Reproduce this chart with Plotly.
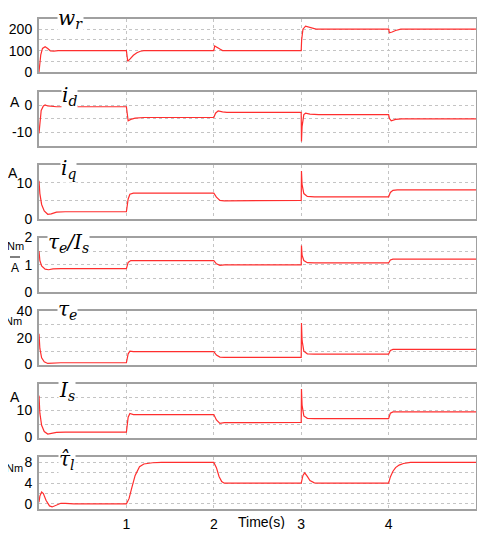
import plotly.graph_objects as go

# ---------------- data ----------------
t_wr = [0, 0.02, 0.04, 0.07, 0.10, 0.13, 0.17, 0.22, 1.0, 1.005, 1.015, 1.04, 1.08, 1.12, 1.16, 1.2,
        2.0, 2.01, 2.04, 2.07, 2.1, 3.0, 3.005, 3.02, 3.05, 3.09, 3.13, 3.17, 4.0, 4.01, 4.04, 4.08, 4.14, 5.0]
wr = [0, 80, 110, 118, 110, 99, 98, 100, 100, 70, 50, 60, 78, 90, 97, 100,
      100, 122, 116, 107, 100, 100, 150, 200, 214, 210, 203, 200, 200, 183, 187, 194, 200, 200]

t_id = [0, 0.01, 0.025, 0.05, 0.07, 0.1, 0.14, 0.2, 1.0, 1.01, 1.02, 1.05, 1.1, 1.2, 2.0, 2.02, 2.05, 2.1, 2.15,
        3.0, 3.003, 3.01, 3.03, 3.05, 3.1, 3.2, 4.0, 4.01, 4.03, 4.08, 4.15, 5.0]
i_d = [-10.5, -6, -2, -0.3, 0.1, -0.3, -0.5, -0.6, -0.6, -4.5, -5.8, -5.3, -4.8, -4.6, -4.6, -3.0, -2.1, -2.5, -2.7,
       -2.7, -13.5, -8, -3.5, -3.0, -3.3, -3.5, -3.5, -5.0, -5.8, -5.3, -5.1, -5.1]

t_iq = [0, 0.01, 0.03, 0.06, 0.1, 0.14, 0.2, 0.3, 1.0, 1.02, 1.04, 1.08, 2.0, 2.03, 2.07, 2.12,
        3.0, 3.003, 3.01, 3.03, 3.07, 3.15, 4.0, 4.02, 4.05, 4.1, 5.0]
i_q = [10.5, 7, 4, 2.2, 1.3, 1.4, 1.9, 2.0, 2.0, 5.5, 6.8, 7.1, 7.1, 6.0, 5.1, 5.0,
       5.1, 13.2, 9.5, 7.0, 6.2, 6.1, 6.1, 7.3, 7.9, 8.0, 8.0]

t_ratio = [0, 0.01, 0.03, 0.07, 0.11, 0.16, 0.25, 1.0, 1.02, 1.05, 2.0, 2.03, 2.07, 2.12,
           3.0, 3.003, 3.01, 3.03, 3.07, 3.15, 4.0, 4.02, 4.05, 5.0]
ratio = [1.5, 1.15, 0.95, 0.83, 0.81, 0.84, 0.85, 0.85, 1.08, 1.15, 1.15, 1.03, 0.97, 0.99,
         0.99, 1.7, 1.35, 1.15, 1.07, 1.06, 1.06, 1.17, 1.2, 1.2]

t_te = [0, 0.01, 0.03, 0.06, 0.1, 0.15, 0.25, 1.0, 1.02, 1.04, 1.08, 2.0, 2.03, 2.07, 2.12,
        3.0, 3.003, 3.01, 3.03, 3.07, 3.15, 4.0, 4.02, 4.05, 5.0]
te = [23, 12, 5, 2, 0.8, 1.0, 1.3, 1.3, 8, 10, 9.6, 9.6, 7, 5.5, 5.3,
      5.3, 31, 18, 10, 8, 7.7, 7.7, 10.5, 11.3, 11.3]

t_is = [0, 0.01, 0.03, 0.06, 0.1, 0.15, 0.2, 0.3, 1.0, 1.02, 1.04, 1.08, 2.0, 2.03, 2.07, 2.12,
        3.0, 3.003, 3.01, 3.03, 3.07, 3.15, 4.0, 4.02, 4.05, 5.0]
i_s = [15.5, 9, 4.5, 2.2, 1.3, 1.5, 1.9, 2.0, 2.0, 7.5, 8.9, 8.5, 8.5, 6.5, 5.2, 5.5,
       5.6, 18, 12, 8, 7.1, 7.0, 7.0, 9.0, 9.5, 9.5]

t_tl = [0, 0.01, 0.03, 0.05, 0.08, 0.12, 0.15, 0.2, 0.25, 0.3, 0.4, 1.0, 1.03, 1.06, 1.1, 1.15, 1.2, 1.3, 1.4,
        2.0, 2.03, 2.06, 2.09, 2.12, 3.0, 3.02, 3.04, 3.07, 3.1, 3.15, 3.2,
        4.0, 4.02, 4.05, 4.08, 4.12, 4.17, 4.25, 5.0]
tl_hat = [0.3, 1.5, 2.3, 2.0, 0.7, -0.4, -0.6, -0.3, 0.1, 0.1, 0, 0, 1.0, 3.0, 5.5, 7.2, 7.7, 7.95, 8,
          8, 7, 5.3, 4.3, 4.0, 4.0, 5.5, 6.0, 5.3, 4.5, 4.05, 4.0,
          4.0, 5.2, 6.3, 7.0, 7.5, 7.8, 8.0, 8.0]

x_ticks = [1, 2, 3, 4, 5]
x_ticktext = ["1", "2", "3", "4", "5"]

panels = [
    dict(t=t_wr, y=wr, rng=[0, 250], tv=[0, 50, 100, 150, 200, 250], tt=["0", "", "100", "", "200", ""],
         label="<i>w<sub>r</sub></i>", unit=None),
    dict(t=t_id, y=i_d, rng=[-15, 5], tv=[-15, -10, -5, 0, 5], tt=["", "-10", "", "0", ""],
         label="<i>i<sub>d</sub></i>", unit="A"),
    dict(t=t_iq, y=i_q, rng=[0, 15], tv=[0, 5, 10, 15], tt=["0", "", "10", ""],
         label="<i>i<sub>q</sub></i>", unit="A"),
    dict(t=t_ratio, y=ratio, rng=[0, 2], tv=[0, 0.5, 1, 1.5, 2], tt=["0", "", "1", "", "2"],
         label="<i>τ<sub>e</sub>/I<sub>s</sub></i>", unit="frac"),
    dict(t=t_te, y=te, rng=[0, 40], tv=[0, 10, 20, 30, 40], tt=["0", "", "20", "", "40"],
         label="<i>τ<sub>e</sub></i>", unit="Nm"),
    dict(t=t_is, y=i_s, rng=[0, 20], tv=[0, 5, 10, 15, 20], tt=["0", "", "10", "", ""],
         label="<i>I<sub>s</sub></i>", unit="A"),
    dict(t=t_tl, y=tl_hat, rng=[-1, 9], tv=[-1, 0, 2, 4, 6, 8, 9], tt=["", "0", "", "4", "", "8", ""],
         label="<i>τ̂<sub>l</sub></i>", unit="Nm"),
]

# ---------------- layout geometry (page pixels; page body has an 8px margin) ----------------
OFF = 8
PAGE_W, PAGE_H = 485, 537
W, H = PAGE_W - 2 * OFF, PAGE_H - 2 * OFF
PL, PR = 39, 476          # plot area left/right in page pixels
ML, MR = PL - OFF, (OFF + W) - PR
PW = W - ML - MR
bounds = [(18.5, 72), (91.7, 145.5), (164.5, 219), (237.5, 291.7),
          (311, 364.5), (383.5, 437.5), (457.3, 509)]


def px(x):
    return (x - PL) / PW


def py(y):
    return 1 - (y - OFF) / H


TICKFONT = dict(family="'Liberation Sans Narrow', 'Liberation Sans', Arial, sans-serif",
                size=14, color="black")
LABELFONT = dict(family="DejaVu Serif, Liberation Serif, serif", size=20, color="black")
GRID = "#c4c4c4"
BORDER = "#a0a0a0"

fig = go.Figure()
layout = dict(width=W, height=H, margin=dict(l=ML, r=MR, t=0, b=0, autoexpand=False),
              plot_bgcolor="white", paper_bgcolor="white", showlegend=False)
annotations = []
shapes = []
label_pos = [(70, 19), (69, 96), (68, 169), (68, 243), (67, 310), (67, 391), (67, 460)]
unit_pos = [None, (15, 102), (13, 173), None, (13, 321), (15, 397), (14, 468)]

for i, p in enumerate(panels):
    n = i + 1
    xa = "x" if n == 1 else f"x{n}"
    ya = "y" if n == 1 else f"y{n}"
    fig.add_trace(go.Scatter(x=p["t"], y=p["y"], mode="lines", xaxis=xa, yaxis=ya,
                             line=dict(color="#ff2e2e", width=1.2), hoverinfo="skip"))
    top, bot = bounds[i]
    xkey = "xaxis" if n == 1 else f"xaxis{n}"
    ykey = "yaxis" if n == 1 else f"yaxis{n}"
    layout[xkey] = dict(domain=[0, 1], anchor=ya, range=[0, 5],
                        tickvals=[0] + x_ticks, ticktext=[""] + x_ticktext,
                        showticklabels=(n == 7), tickfont=TICKFONT, ticks="",
                        ticklabelstandoff=1,
                        showgrid=True, gridcolor=GRID, griddash="dot", gridwidth=1,
                        showline=True, mirror=True, linecolor=BORDER, linewidth=2,
                        zeroline=False, fixedrange=True, automargin=False)
    if n != 1:
        layout[xkey]["matches"] = "x"
    layout[ykey] = dict(domain=[py(bot), py(top)], anchor=xa, range=p["rng"],
                        tickvals=p["tv"], ticktext=p["tt"], tickfont=TICKFONT, ticks="",
                        ticklabelstandoff=2,
                        showgrid=True, gridcolor=GRID, griddash="dot", gridwidth=1,
                        showline=True, mirror=True, linecolor=BORDER, linewidth=2,
                        zeroline=False, fixedrange=True, automargin=False)
    lx, ly = label_pos[i]
    annotations.append(dict(text=p["label"], x=px(lx), y=py(ly), xref="paper", yref="paper",
                            showarrow=False, font=LABELFONT, bgcolor="white",
                            xanchor="center", yanchor="middle", borderpad=0))
    if p["unit"] == "frac":
        for txt, yy, fs in (("Nm", 246, 11), ("A", 268, 12)):
            annotations.append(dict(text=txt, x=px(15), y=py(yy), xref="paper", yref="paper",
                                    showarrow=False, font=dict(TICKFONT, size=fs),
                                    xanchor="center", yanchor="middle"))
        shapes.append(dict(type="line", xref="paper", yref="paper",
                           x0=px(10), x1=px(20), y0=py(257), y1=py(257),
                           line=dict(color="black", width=1)))
    elif p["unit"]:
        ux, uy = unit_pos[i]
        annotations.append(dict(text=p["unit"], x=px(ux), y=py(uy),
                                xref="paper", yref="paper",
                                showarrow=False, font=dict(TICKFONT, size=11 if p["unit"] == "Nm" else 14),
                                xanchor="center", yanchor="middle"))

annotations.append(dict(text="Time(s)", x=px(261), y=py(522), xref="paper", yref="paper",
                        showarrow=False, font=dict(TICKFONT, size=14),
                        xanchor="center", yanchor="middle"))
layout["annotations"] = annotations
layout["shapes"] = shapes
fig.update_layout(**layout)
fig.write_html("out.html")
